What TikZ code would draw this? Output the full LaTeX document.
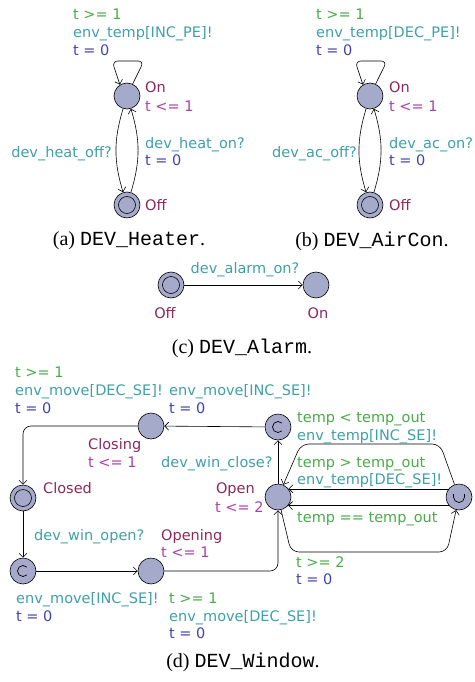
\documentclass[tikz,border=0pt]{standalone}
\usepackage{fontspec}
\setmainfont{Liberation Serif}
\setmonofont{Liberation Mono}
\newfontfamily\upfont{DejaVu Sans}
\usetikzlibrary{arrows.meta}
\definecolor{locfill}{RGB}{165,170,203}
\definecolor{cguard}{RGB}{72,172,72}
\definecolor{csync}{RGB}{62,160,168}
\definecolor{cupd}{RGB}{66,66,178}
\definecolor{cname}{RGB}{140,40,92}
\definecolor{cinv}{RGB}{172,62,172}
\newcommand{\lf}{\upfont\fontsize{14.5}{17}\selectfont}
\newcommand{\capf}{\fontsize{20}{23}\selectfont}
\tikzset{
  loc/.style={circle, draw, fill=locfill, minimum size=26pt, inner sep=0pt, line width=0.6pt},
  initloc/.style={loc, path picture={\draw[line width=0.6pt] (path picture bounding box.center) circle (8.5pt);}},
  comloc/.style={loc, path picture={\draw[line width=0.7pt] (path picture bounding box.center) ++(45:5.5pt) arc[start angle=45,end angle=315,radius=5.5pt];}},
  urgloc/.style={loc, path picture={\draw[line width=0.7pt] (path picture bounding box.center) ++(5.5,-3) -- ++(0,3) arc[start angle=0,end angle=-180,radius=5.5pt] -- ++(0,-3);}},
  edg/.style={draw, line width=0.6pt, -{Straight Barb[length=4pt,width=8pt,line width=0.6pt]}},
  lb/.style={anchor=base west, inner sep=0pt, font=\lf},
  lbe/.style={anchor=base east, inner sep=0pt, font=\lf},
  lbc/.style={anchor=base, inner sep=0pt, font=\lf},
  gd/.style={text=cguard},
  sy/.style={text=csync},
  up/.style={text=cupd},
  nm/.style={text=cname},
  iv/.style={text=cinv},
  capt/.style={anchor=center, inner sep=0pt, font=\capf},
}
\begin{document}
\begin{tikzpicture}[x=1pt,y=-1pt]
\useasboundingbox (0,0) rectangle (474,682);

% ---------- (a) Heater ----------
\node[loc] (hon) at (127,96) {};
\node[initloc] (hoff) at (127,205) {};
\path[edg, rounded corners=6pt] (hon.65) -- (144,61) -- (112,61) -- (hon.122);
\path[edg] (hon) to[bend right=17] (hoff);
\path[edg] (hoff) to[bend right=17] (hon);
\node[lb,gd] (hg) at (73,20) {t >= 1};
\node[lb,sy] (hs) at (73,38) {env\_temp[INC\_PE]!};
\node[lb,up] (hu) at (73,56) {t = 0};
\node[lb,nm] (honn) at (145,93) {On};
\node[lb,iv] (honi) at (145,111) {t <= 1};
\node[lb,nm] (hoffn) at (145,210) {Off};
\node[lbe,sy] (hoffs) at (112,157) {dev\_heat\_off?};
\node[lb,sy] (hons) at (145,148) {dev\_heat\_on?};
\node[lb,up] (honu) at (145,165) {t = 0};
\node[capt] (capa) at (129,241) {(a) \texttt{DEV\_Heater}.};

% ---------- (b) AirCon ----------
\node[loc] (aon) at (370,96) {};
\node[initloc] (aoff) at (370,205) {};
\path[edg, rounded corners=6pt] (aon.65) -- (387,61) -- (355,61) -- (aon.122);
\path[edg] (aon) to[bend right=17] (aoff);
\path[edg] (aoff) to[bend right=17] (aon);
\node[lb,gd] (ag) at (316,20) {t >= 1};
\node[lb,sy] (as) at (316,38) {env\_temp[DEC\_PE]!};
\node[lb,up] (au) at (316,56) {t = 0};
\node[lb,nm] (aonn) at (389,93) {On};
\node[lb,iv] (aoni) at (389,111) {t <= 1};
\node[lb,nm] (aoffn) at (389,210) {Off};
\node[lbe,sy] (aoffs) at (357,157) {dev\_ac\_off?};
\node[lb,sy] (aons) at (389,148) {dev\_ac\_on?};
\node[lb,up] (aonu) at (389,165) {t = 0};
\node[capt] (capb) at (372,241) {(b) \texttt{DEV\_AirCon}.};

% ---------- (c) Alarm ----------
\node[initloc] (loff) at (171,285) {};
\node[loc] (lon) at (316,285) {};
\path[edg] (loff) -- (lon);
\node[lbc,sy] (ls) at (245,273) {dev\_alarm\_on?};
\node[lbc,nm] (loffn) at (165,318) {Off};
\node[lbc,nm] (lonn) at (318,318) {On};
\node[capt] (capc) at (242,348) {(c) \texttt{DEV\_Alarm}.};

% ---------- (d) Window ----------
\node[loc] (wcl) at (151,426) {};
\node[initloc] (wcd) at (23,498) {};
\node[comloc] (wc) at (278,427) {};
\node[loc] (wo) at (278,497) {};
\node[urgloc] (wu) at (459,497) {};
\node[comloc] (wc2) at (23,571) {};
\node[loc] (wop) at (151,571) {};

\path[edg] (wc) -- (wcl);
\path[edg, rounded corners=8pt] (wcl) -- (23,426) -- (wcd);
\path[edg] (wcd) -- (wc2);
\path[edg] (wc2) -- (wop);
\path[edg, rounded corners=8pt] (wop) -- (278,571) -- (wo);
\path[edg] (wo) -- (wc);
\path[edg, rounded corners=8pt] (wu) -- (440,444) -- (301,444) -- (wo);
\path[edg] (wu.142) -- (wo.38);
\path[edg] (wu.220) -- (wo.320);
\path[edg, rounded corners=8pt] (wo) -- (291,552) -- (447,552) -- (wu);

\node[lb,gd] (w1g) at (15,377) {t >= 1};
\node[lb,sy] (w1s) at (15,395) {env\_move[DEC\_SE]!};
\node[lb,up] (w1u) at (15,413) {t = 0};
\node[lb,sy] (w2s) at (169,395) {env\_move[INC\_SE]!};
\node[lb,up] (w2u) at (169,413) {t = 0};
\node[lb,nm] (wcln) at (88,449) {Closing};
\node[lb,iv] (wcli) at (88,467) {t <= 1};
\node[lb,sy] (wclose) at (161,467) {dev\_win\_close?};
\node[lb,nm] (wcdn) at (43,493) {Closed};
\node[lbe,nm] (won) at (255,493) {Open};
\node[lb,iv] (woi) at (215,512) {t <= 2};
\node[lb,gd] (t1g) at (297,422) {temp < temp\_out};
\node[lb,sy] (t1s) at (297,440) {env\_temp[INC\_SE]!};
\node[lb,gd] (t2g) at (297,467) {temp > temp\_out};
\node[lb,sy] (t2s) at (297,484) {env\_temp[DEC\_SE]!};
\node[lb,gd] (t3g) at (297,522) {temp == temp\_out};
\node[lb,gd] (t4g) at (296,567) {t >= 2};
\node[lb,up] (t4u) at (296,584) {t = 0};
\node[lb,sy] (wopen) at (34,540) {dev\_win\_open?};
\node[lb,nm] (wopn) at (161,540) {Opening};
\node[lb,iv] (wopi) at (161,557) {t <= 1};
\node[lb,sy] (w3s) at (16,603) {env\_move[INC\_SE]!};
\node[lb,up] (w3u) at (16,621) {t = 0};
\node[lb,gd] (w4g) at (169,603) {t >= 1};
\node[lb,sy] (w4s) at (169,621) {env\_move[DEC\_SE]!};
\node[lb,up] (w4u) at (169,638) {t = 0};
\node[capt] (capd) at (243,662) {(d) \texttt{DEV\_Window}.};
\end{tikzpicture}
\end{document}
